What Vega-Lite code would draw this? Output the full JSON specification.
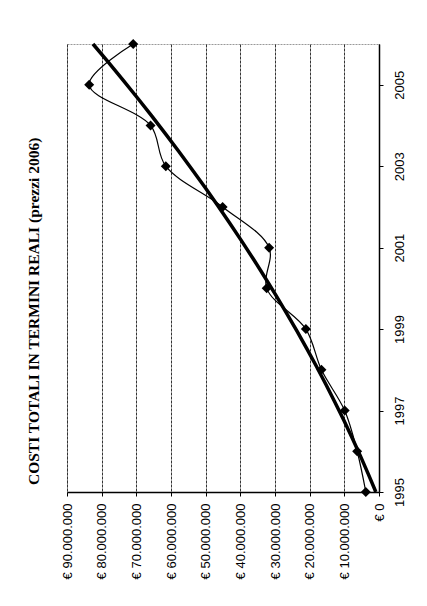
{
  "$schema": "https://vega.github.io/schema/vega-lite/v6.json",
  "autosize": "none",
  "width": 312,
  "height": 448,
  "padding": {"left": 67, "top": 44, "right": 48, "bottom": 114},
  "background": "white",
  "config": {
    "view": {"stroke": "#999", "strokeDash": [2, 1], "strokeWidth": 1},
    "axis": {"labelFont": "Liberation Sans", "labelFontSize": 13, "labelColor": "black"}
  },
  "title": {
    "text": "COSTI TOTALI IN TERMINI REALI (prezzi 2006)",
    "orient": "left",
    "anchor": "start",
    "frame": "group",
    "font": "Liberation Serif",
    "fontSize": 15.5,
    "fontWeight": "bold",
    "color": "black",
    "offset": 19,
    "dx": 7
  },
  "data": {
    "values": [
      {"year": 1995, "cost": 3800000},
      {"year": 1996, "cost": 6300000},
      {"year": 1997, "cost": 9900000},
      {"year": 1998, "cost": 16600000},
      {"year": 1999, "cost": 21100000},
      {"year": 2000, "cost": 32400000},
      {"year": 2001, "cost": 31700000},
      {"year": 2002, "cost": 45100000},
      {"year": 2003, "cost": 61500000},
      {"year": 2004, "cost": 65900000},
      {"year": 2005, "cost": 83600000},
      {"year": 2006, "cost": 70900000}
    ]
  },
  "encoding": {
    "x": {
      "field": "cost",
      "type": "quantitative",
      "scale": {"domain": [0, 90000000], "reverse": true, "nice": false, "zero": true},
      "axis": {
        "orient": "bottom",
        "title": null,
        "values": [0, 10000000, 20000000, 30000000, 40000000, 50000000, 60000000, 70000000, 80000000, 90000000],
        "labelExpr": "'€ ' + replace(format(datum.value, ','), regexp(',', 'g'), '.')",
        "labelAngle": -90,
        "labelAlign": "right",
        "labelBaseline": "middle",
        "labelPadding": 7,
        "tickSize": 4,
        "tickColor": "black",
        "domainColor": "black",
        "domainWidth": 1.5,
        "grid": true,
        "gridColor": "#333",
        "gridDash": [3, 1],
        "gridWidth": 1
      }
    },
    "y": {
      "field": "year",
      "type": "quantitative",
      "scale": {"domain": [1995, 2006], "nice": false, "zero": false},
      "axis": {
        "orient": "right",
        "title": null,
        "values": [1995, 1997, 1999, 2001, 2003, 2005],
        "format": "d",
        "labelAngle": -90,
        "labelAlign": "center",
        "labelBaseline": "top",
        "labelPadding": 10,
        "tickSize": 4,
        "tickColor": "black",
        "domainColor": "black",
        "domainWidth": 1.5,
        "grid": false
      }
    },
    "order": {"field": "year", "type": "quantitative"}
  },
  "layer": [
    {
      "mark": {"type": "line", "interpolate": "catmull-rom", "color": "black", "strokeWidth": 1.2}
    },
    {
      "mark": {"type": "point", "shape": "diamond", "filled": true, "color": "black", "size": 100, "opacity": 1}
    },
    {
      "transform": [{"regression": "cost", "on": "year", "method": "poly", "order": 2}],
      "mark": {"type": "line", "color": "black", "strokeWidth": 3.5}
    }
  ]
}
